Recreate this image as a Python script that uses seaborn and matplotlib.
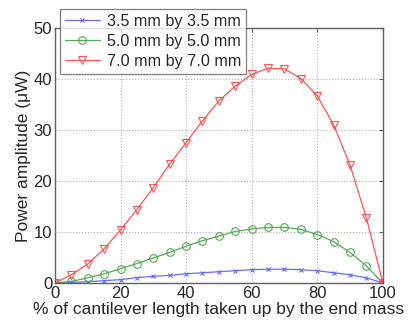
import matplotlib
matplotlib.use("Agg")
import matplotlib.pyplot as plt
import seaborn as sns
import pandas as pd
import numpy as np

pct = [0, 5, 10, 15, 20, 25, 30, 35, 40, 45, 50, 55, 60, 65, 70, 75, 80, 85, 90, 95, 100]
p35 = [0, 0.1, 0.25, 0.45, 0.65, 1.05, 1.3, 1.5, 1.8, 2.0, 2.2, 2.4, 2.6, 2.7, 2.7, 2.6, 2.4, 2.0, 1.6, 1.0, 0]
p50 = [0, 0.3, 1.0, 1.8, 2.8, 3.8, 4.9, 6.0, 7.2, 8.3, 9.2, 10.1, 10.6, 10.9, 10.9, 10.5, 9.5, 8.1, 6.0, 3.3, 0]
p70 = [0, 1.6, 3.7, 6.7, 10.4, 14.4, 18.7, 23.3, 27.5, 31.8, 35.7, 38.6, 40.9, 42.1, 42.0, 40.1, 36.7, 31.0, 23.1, 12.7, 0]
labels = ["3.5 mm by 3.5 mm", "5.0 mm by 5.0 mm", "7.0 mm by 7.0 mm"]

df = pd.concat([
    pd.DataFrame({"x": pct, "y": p35, "s": labels[0]}),
    pd.DataFrame({"x": pct, "y": p50, "s": labels[1]}),
    pd.DataFrame({"x": pct, "y": p70, "s": labels[2]}),
])

sns.set_style("white")
plt.rcParams["font.family"] = ["Liberation Sans", "DejaVu Sans"]

fig = plt.figure(figsize=(4.13, 3.26), dpi=100)
ax = fig.add_axes([0.133, 0.132, 0.794, 0.782])

colors = ["#6a6aff", "#55aa55", "#ff5555"]
markers = ["x", "o", "v"]
for lab, c, m in zip(labels, colors, markers):
    sub = df[df["s"] == lab]
    sns.lineplot(data=sub, x="x", y="y", ax=ax, color=c, marker=m, label=lab,
                 markersize=5.5 if m != "x" else 3.5, markerfacecolor="none",
                 markeredgecolor=c, markeredgewidth=0.8, linewidth=0.9)

ax.set_xlim(0, 100)
ax.set_ylim(0, 50)
ax.set_xticks([0, 20, 40, 60, 80, 100])
ax.set_yticks([0, 10, 20, 30, 40, 50])
ax.grid(True, linestyle=":", color="#b0b0b0", linewidth=0.8)
for sp in ax.spines.values():
    sp.set_color("#606060")
    sp.set_linewidth(1.0)
ax.tick_params(direction="in", length=3, width=0.8, color="#606060",
               labelsize=12, top=True, right=True, pad=2)
ax.set_xlabel("% of cantilever length taken up by the end mass", fontsize=12.5, labelpad=1)
ax.set_ylabel("Power amplitude (\u03bcW)", fontsize=12.5, labelpad=2)

leg = ax.legend(loc="upper left", bbox_to_anchor=(0.015, 1.075), fontsize=11.6,
                frameon=True, fancybox=False, borderpad=0.3, labelspacing=0.32,
                handlelength=2.2, handletextpad=0.4, borderaxespad=0)
leg.get_frame().set_edgecolor("#606060")
leg.get_frame().set_linewidth(0.9)

fig.savefig("out.png", dpi=100)
